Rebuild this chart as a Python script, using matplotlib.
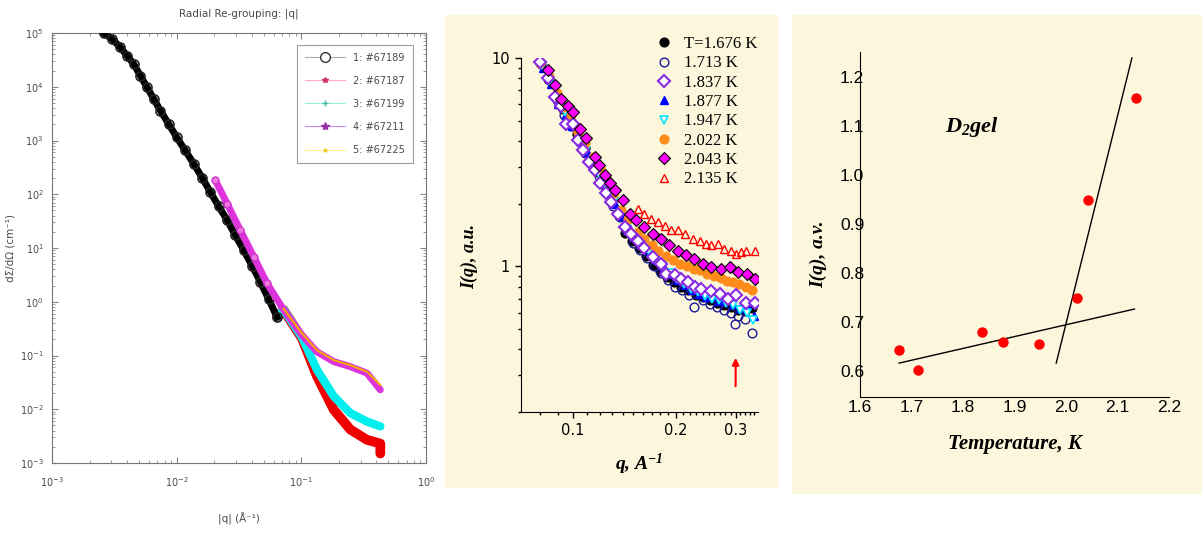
import numpy as np
import matplotlib
matplotlib.use("Agg")
import matplotlib.pyplot as plt
from matplotlib.lines import Line2D
from matplotlib.patches import Rectangle
from matplotlib.ticker import FixedLocator, FixedFormatter, NullFormatter

plt.rcParams['mathtext.fontset'] = 'custom'
plt.rcParams['mathtext.rm'] = 'Liberation Serif:bold:italic'
plt.rcParams['mathtext.it'] = 'Liberation Serif:bold:italic'
plt.rcParams['mathtext.bf'] = 'Liberation Serif:bold:italic'

# ---------------- panel 1 : radial re-grouping (log-log) ----------------
q_67189 = [0.00259, 0.00303, 0.00353, 0.0040, 0.00452, 0.00511, 0.00578, 0.00654,
           0.0074, 0.0086, 0.010, 0.0117, 0.0137, 0.0160, 0.0186, 0.0217, 0.0254,
           0.0295, 0.0345, 0.0402, 0.0469, 0.0547, 0.0638]
I_67189 = [1.0e5, 7.74e4, 5.42e4, 3.79e4, 2.66e4, 1.61e4, 9.8e3, 5.96e3, 3.6e3,
           2.05e3, 1.15e3, 655, 370, 204, 110, 60, 33, 17.4, 9.1, 4.7, 2.35, 1.12, 0.52]

q_67211 = [0.0204, 0.0254, 0.0324, 0.0415, 0.0531, 0.0721, 0.101, 0.1336, 0.182,
           0.247, 0.336, 0.43]
I_67211 = [182, 67, 21.4, 6.9, 2.19, 0.71, 0.24, 0.117, 0.077, 0.062, 0.047, 0.023]

q_67225 = [0.072, 0.101, 0.1336, 0.182, 0.247, 0.336, 0.43]
I_67225 = [0.74, 0.26, 0.125, 0.082, 0.066, 0.050, 0.028]

q_67199 = [0.0638, 0.0721, 0.101, 0.1336, 0.182, 0.247, 0.336, 0.43]
I_67199 = [0.52, 0.71, 0.22, 0.054, 0.0174, 0.0085, 0.0059, 0.0048]

q_67187 = [0.0638, 0.0721, 0.101, 0.1336, 0.182, 0.247, 0.336, 0.43, 0.43]
I_67187 = [0.52, 0.70, 0.21, 0.041, 0.0098, 0.0042, 0.0027, 0.0023, 0.0015]

run_labels = ['1: #67189', '2: #67187', '3: #67199', '4: #67211', '5: #67225']

# ---------------- panel 2 : I(q) at several temperatures ----------------
q_1676 = [0.080, 0.0845, 0.089, 0.0935, 0.098, 0.103, 0.108, 0.113, 0.118, 0.124, 0.130,
          0.136, 0.142, 0.149, 0.156, 0.164, 0.172, 0.180, 0.189, 0.198, 0.208, 0.218,
          0.229, 0.240, 0.252, 0.264, 0.277, 0.290, 0.304, 0.319, 0.334]
I_1676 = [9.5, 7.9, 6.4, 5.7, 5.0, 4.3, 3.7, 3.25, 2.85, 2.45, 2.1, 1.75, 1.45, 1.33,
          1.22, 1.12, 1.02, 0.95, 0.89, 0.84, 0.80, 0.77, 0.73, 0.71, 0.69, 0.67, 0.65,
          0.64, 0.62, 0.61, 0.63]

q_1713 = [0.0805, 0.085, 0.0895, 0.094, 0.0985, 0.1035, 0.1085, 0.1135, 0.119, 0.125,
          0.131, 0.137, 0.143, 0.150, 0.157, 0.165, 0.173, 0.181, 0.190, 0.199, 0.209,
          0.219, 0.226, 0.241, 0.253, 0.265, 0.278, 0.291, 0.299, 0.305, 0.320, 0.336]
I_1713 = [9.4, 7.8, 6.3, 5.3, 4.7, 4.1, 3.5, 3.05, 2.7, 2.35, 1.95, 1.72, 1.5, 1.3, 1.2,
          1.1, 1.0, 0.93, 0.86, 0.80, 0.77, 0.73, 0.64, 0.69, 0.66, 0.64, 0.62, 0.60,
          0.53, 0.58, 0.56, 0.48]

q_1837 = [0.0798, 0.0845, 0.0884, 0.0920, 0.0956, 0.0998, 0.1034, 0.107, 0.111, 0.1157,
          0.1197, 0.1247, 0.1296, 0.1355, 0.1417, 0.1482, 0.155, 0.162, 0.1716, 0.1815,
          0.1877, 0.1986, 0.208, 0.2173, 0.2274, 0.238, 0.2545, 0.2693, 0.285, 0.3014,
          0.3226, 0.3411]
I_1837 = [9.6, 8.05, 6.5, 5.86, 4.84, 4.8, 4.02, 3.6, 3.17, 2.89, 2.51, 2.25, 2.04, 1.79,
          1.55, 1.43, 1.33, 1.22, 1.11, 1.03, 0.92, 0.91, 0.87, 0.84, 0.80, 0.78, 0.76,
          0.74, 0.70, 0.73, 0.67, 0.67]

q_1877 = [0.0815, 0.086, 0.0905, 0.095, 0.0995, 0.1045, 0.1095, 0.115, 0.121, 0.127,
          0.133, 0.139, 0.146, 0.153, 0.160, 0.168, 0.176, 0.185, 0.194, 0.203, 0.213,
          0.223, 0.234, 0.245, 0.257, 0.269, 0.282, 0.295, 0.309, 0.324, 0.339]
I_1877 = [9.0, 7.5, 6.0, 5.4, 4.7, 4.0, 3.55, 3.0, 2.6, 2.3, 2.0, 1.75, 1.55, 1.4, 1.28,
          1.17, 1.07, 0.99, 0.92, 0.86, 0.81, 0.77, 0.74, 0.71, 0.72, 0.68, 0.70, 0.66,
          0.63, 0.65, 0.58]

q_1947 = [0.081, 0.0855, 0.090, 0.0945, 0.099, 0.104, 0.109, 0.1145, 0.120, 0.126, 0.132,
          0.138, 0.145, 0.152, 0.159, 0.167, 0.175, 0.184, 0.193, 0.202, 0.212, 0.222,
          0.233, 0.244, 0.256, 0.268, 0.281, 0.294, 0.308, 0.323, 0.338]
I_1947 = [9.3, 7.7, 6.2, 5.5, 4.8, 4.1, 3.6, 3.1, 2.7, 2.35, 2.05, 1.8, 1.58, 1.42, 1.3,
          1.18, 1.08, 1.0, 0.93, 0.87, 0.82, 0.78, 0.75, 0.72, 0.70, 0.69, 0.67, 0.65,
          0.62, 0.60, 0.55]

q_2022 = [0.080, 0.085, 0.0895, 0.094, 0.0985, 0.1035, 0.1085, 0.114, 0.120, 0.126, 0.132,
          0.1386, 0.145, 0.1547, 0.162, 0.170, 0.178, 0.187, 0.196, 0.206, 0.216, 0.226,
          0.235, 0.247, 0.259, 0.271, 0.283, 0.294, 0.307, 0.321, 0.336]
I_2022 = [9.5, 8.2, 6.8, 5.8, 5.3, 4.4, 3.9, 3.35, 2.95, 2.6, 2.25, 1.86, 1.68, 1.46, 1.36,
          1.27, 1.19, 1.12, 1.07, 1.03, 1.0, 0.97, 0.96, 0.92, 0.90, 0.88, 0.85, 0.84,
          0.82, 0.80, 0.77]

q_2043 = [0.0841, 0.0884, 0.0924, 0.0965, 0.1, 0.1046, 0.1094, 0.1157, 0.1195, 0.1239,
          0.128, 0.1326, 0.14, 0.1466, 0.1533, 0.162, 0.1716, 0.1815, 0.1918, 0.2031,
          0.2147, 0.227, 0.2404, 0.2545, 0.272, 0.288, 0.305, 0.323, 0.341]
I_2043 = [8.72, 7.39, 6.38, 5.9, 5.5, 4.58, 4.11, 3.35, 3.05, 2.73, 2.5, 2.32, 2.09, 1.79,
          1.66, 1.54, 1.43, 1.36, 1.26, 1.19, 1.13, 1.09, 1.03, 0.99, 0.97, 0.99, 0.94,
          0.92, 0.87]

q_2135 = [0.155, 0.162, 0.1697, 0.1776, 0.186, 0.194, 0.2031, 0.2127, 0.225, 0.235, 0.246,
          0.2545, 0.266, 0.278, 0.2915, 0.3014, 0.3115, 0.3226, 0.3411]
I_2135 = [1.89, 1.79, 1.69, 1.63, 1.57, 1.49, 1.49, 1.43, 1.36, 1.33, 1.28, 1.26, 1.28,
          1.21, 1.19, 1.15, 1.17, 1.19, 1.19]

temp_labels = ['T=1.676 K', '1.713 K', '1.837 K', '1.877 K', '1.947 K', '2.022 K',
               '2.043 K', '2.135 K']

# ---------------- panel 3 : I(q) vs temperature ----------------
temps = [1.676, 1.713, 1.837, 1.877, 1.947, 2.022, 2.043, 2.135]
I_at_q = [0.643, 0.602, 0.681, 0.660, 0.655, 0.750, 0.948, 1.157]
fit_low_T = [1.676, 2.133]
fit_low_I = [0.617, 0.727]
fit_high_T = [1.981, 2.128]
fit_high_I = [0.617, 1.238]

W, H = 1202, 533
cream = '#fcf6dc'
fig = plt.figure(figsize=(W / 100, H / 100), dpi=100)
fig.patch.set_facecolor('white')


def px_axes(x0, y0, x1, y1):
    # pixel box (top-left origin) -> figure axes
    return fig.add_axes([x0 / W, 1 - y1 / H, (x1 - x0) / W, (y1 - y0) / H])


# backgrounds of the two scanned panels
fig.patches.append(Rectangle((445 / W, 1 - 487 / H), 332 / W, 472 / H,
                             transform=fig.transFigure, color=cream, zorder=-5))
fig.patches.append(Rectangle((792 / W, 1 - 493 / H), 410 / W, 478 / H,
                             transform=fig.transFigure, color=cream, zorder=-5))

# ---- panel 1
gray = '#4a4a4a'
ax1 = px_axes(52, 33, 426, 463)
ax1.set_xscale('log')
ax1.set_yscale('log')
ax1.plot(q_67189, I_67189, '-', color='black', lw=5, zorder=3)
ax1.plot(q_67189, I_67189, 'o', mfc='none', mec='#222222', ms=6.5, mew=1.2, zorder=4)
ax1.plot(q_67187, I_67187, '-', color='#ee0000', lw=7, solid_capstyle='round', zorder=2)
ax1.plot(q_67199, I_67199, '-', color='#00eeee', lw=6, solid_capstyle='round', zorder=2.5)
ax1.plot(q_67211, I_67211, '-', color='#dd33dd', lw=5, solid_capstyle='round', zorder=5)
ax1.plot(q_67211[:5], I_67211[:5], 'o', ms=5, mfc='#ee77dd', mec='#cc33cc', zorder=5)
ax1.plot(q_67225, I_67225, '-', color='#f5a800', lw=1.5, zorder=6)
ax1.set_xlim(1e-3, 1)
ax1.set_ylim(1e-3, 1e5)
for s in ax1.spines.values():
    s.set_color('#777777')
ax1.tick_params(which='both', direction='in', top=True, right=True, colors='#888888',
                labelcolor=gray, labelsize=7)
ax1.tick_params(which='major', length=4)
ax1.tick_params(which='minor', length=2)
ax1.tick_params(axis='x', pad=9)
ax1.tick_params(axis='y', pad=6)
ax1.set_title('Radial Re-grouping: |q|', fontsize=7.5, color=gray, pad=12)
ax1.set_xlabel('|q| (Å⁻¹)', fontsize=7.5, color=gray, labelpad=17)
ax1.set_ylabel('dΣ/dΩ (cm⁻¹)', fontsize=7.5, color=gray, labelpad=3)
h1 = [Line2D([], [], color='#aaaaaa', lw=0.8, marker='o', mfc='white', mec='#333333', ms=7),
      Line2D([], [], color='#ffaacc', lw=0.8, marker='*', mfc='#cc3366', mec='#cc3366', ms=4),
      Line2D([], [], color='#99eedd', lw=0.8, marker='+', mec='#44bbaa', ms=5),
      Line2D([], [], color='#cc88ee', lw=0.8, marker='*', mfc='#9933aa', mec='#9933aa', ms=6),
      Line2D([], [], color='#ffee88', lw=0.8, marker='.', mfc='#eecc33', mec='#eecc33', ms=4)]
leg1 = ax1.legend(h1, run_labels, loc='upper right', bbox_to_anchor=(0.978, 0.984),
                  fontsize=7, handlelength=4.2, handletextpad=0.8, labelspacing=1.35,
                  fancybox=False, edgecolor='#888888', borderpad=0.8, labelcolor=gray)
leg1.get_frame().set_linewidth(0.8)

# ---- panel 2
serif = 'Liberation Serif'
ax2 = px_axes(521, 58, 758, 412)
ax2.set_facecolor(cream)
ax2.set_xscale('log')
ax2.set_yscale('log')
kw = dict(ls='none', ms=6.3)
p1 = ax2.plot(q_1676, I_1676, marker='o', mfc='black', mec='black', **kw)[0]
p2 = ax2.plot(q_1713, I_1713, marker='o', mfc='none', mec='#1a1a99', mew=1, **kw)[0]
p4 = ax2.plot(q_1877, I_1877, marker='^', mfc='#0000ff', mec='#0000ff', **kw)[0]
p5 = ax2.plot(q_1947, I_1947, marker='v', mfc='white', mec='#00e5ff', mew=1.2, **kw)[0]
p6 = ax2.plot(q_2022, I_2022, marker='o', mfc='#ff8c1a', mec='#ff8c1a', **kw)[0]
p3 = ax2.plot(q_1837, I_1837, marker='D', mfc='white', mec='#8a2be2', mew=1.5, ms=5.8,
              ls='none')[0]
p7 = ax2.plot(q_2043, I_2043, marker='D', mfc='#ff00ff', mec='black', mew=0.8, ms=5.8,
              ls='none')[0]
p8 = ax2.plot(q_2135, I_2135, marker='^', mfc='none', mec='#ff0000', mew=1, **kw)[0]
ax2.set_xlim(0.0703, 0.349)
ax2.set_ylim(0.2, 10)
for side in ['top', 'right']:
    ax2.spines[side].set_visible(False)
ax2.xaxis.set_major_locator(FixedLocator([0.1, 0.2, 0.3]))
ax2.xaxis.set_major_formatter(FixedFormatter(['0.1', '0.2', '0.3']))
minor_q = [0.07, 0.08, 0.09] + [0.11 + 0.01 * i for i in range(9)] + \
          [0.21 + 0.01 * i for i in range(9)] + [0.31, 0.32, 0.33, 0.34]
ax2.xaxis.set_minor_locator(FixedLocator(minor_q))
ax2.xaxis.set_minor_formatter(NullFormatter())
ax2.yaxis.set_major_locator(FixedLocator([1, 10]))
ax2.yaxis.set_major_formatter(FixedFormatter(['1', '10']))
ax2.yaxis.set_minor_formatter(NullFormatter())
ax2.tick_params(which='both', direction='out', labelsize=10.5, width=1)
ax2.tick_params(which='major', length=4, pad=4)
ax2.tick_params(which='minor', length=2.5)
ax2.set_xlabel('q, A$^{-1}$', fontsize=14, family=serif, weight='bold', style='italic',
               labelpad=10)
ax2.set_ylabel('I(q), a.u.', fontsize=13, family=serif, weight='bold', style='italic')
ax2.yaxis.set_label_coords(-0.18, 0.438)
ax2.annotate('', xy=(0.3, 0.375), xytext=(0.3, 0.258),
             arrowprops=dict(arrowstyle='-|>', color='red', lw=1.5, mutation_scale=10))
fig.legend([p1, p2, p3, p4, p5, p6, p7, p8], temp_labels, loc='upper left',
           bbox_to_anchor=(656 / W, 1 - 36 / H), frameon=False,
           prop=dict(family=serif, size=12), handlelength=1.0, handletextpad=0.7,
           labelspacing=0.2, borderpad=0, borderaxespad=0)

# ---- panel 3
ax3 = px_axes(860, 52, 1169, 397)
ax3.set_facecolor(cream)
ax3.plot(fit_low_T, fit_low_I, '-', color='black', lw=1)
ax3.plot(fit_high_T, fit_high_I, '-', color='black', lw=1)
ax3.plot(temps, I_at_q, 'o', color='#ff0000', ms=7.5, mec='none')
ax3.set_xlim(1.6, 2.2)
ax3.set_ylim(0.548, 1.25)
for side in ['top', 'right']:
    ax3.spines[side].set_visible(False)
ax3.set_xticks([1.6, 1.7, 1.8, 1.9, 2.0, 2.1, 2.2])
ax3.set_xticklabels(['1.6', '1.7', '1.8', '1.9', '2.0', '2.1', '2.2'])
ax3.set_yticks([0.6, 0.7, 0.8, 0.9, 1.0, 1.1, 1.2])
ax3.set_yticklabels(['0.6', '0.7', '0.8', '0.9', '1.0', '1.1', '1.2'])
narrow = ['Liberation Sans Narrow', 'Liberation Sans']
for lab in ax3.get_xticklabels() + ax3.get_yticklabels():
    lab.set_family(narrow)
    lab.set_fontsize(12.5)
ax3.tick_params(axis='both', length=0)
ax3.tick_params(axis='y', pad=-3)
ax3.tick_params(axis='x', pad=2)
ax3.set_xlabel('Temperature, K', fontsize=15, family=serif, weight='bold', style='italic',
               labelpad=14)
ax3.set_ylabel('I(q), a.v.', fontsize=14, family=serif, weight='bold', style='italic')
ax3.yaxis.set_label_coords(-0.107, 0.415)
ax3.text(1.765, 1.097, '$D_{2}gel$', fontsize=16, ha='left', va='center')

fig.savefig('out.png', dpi=100)
